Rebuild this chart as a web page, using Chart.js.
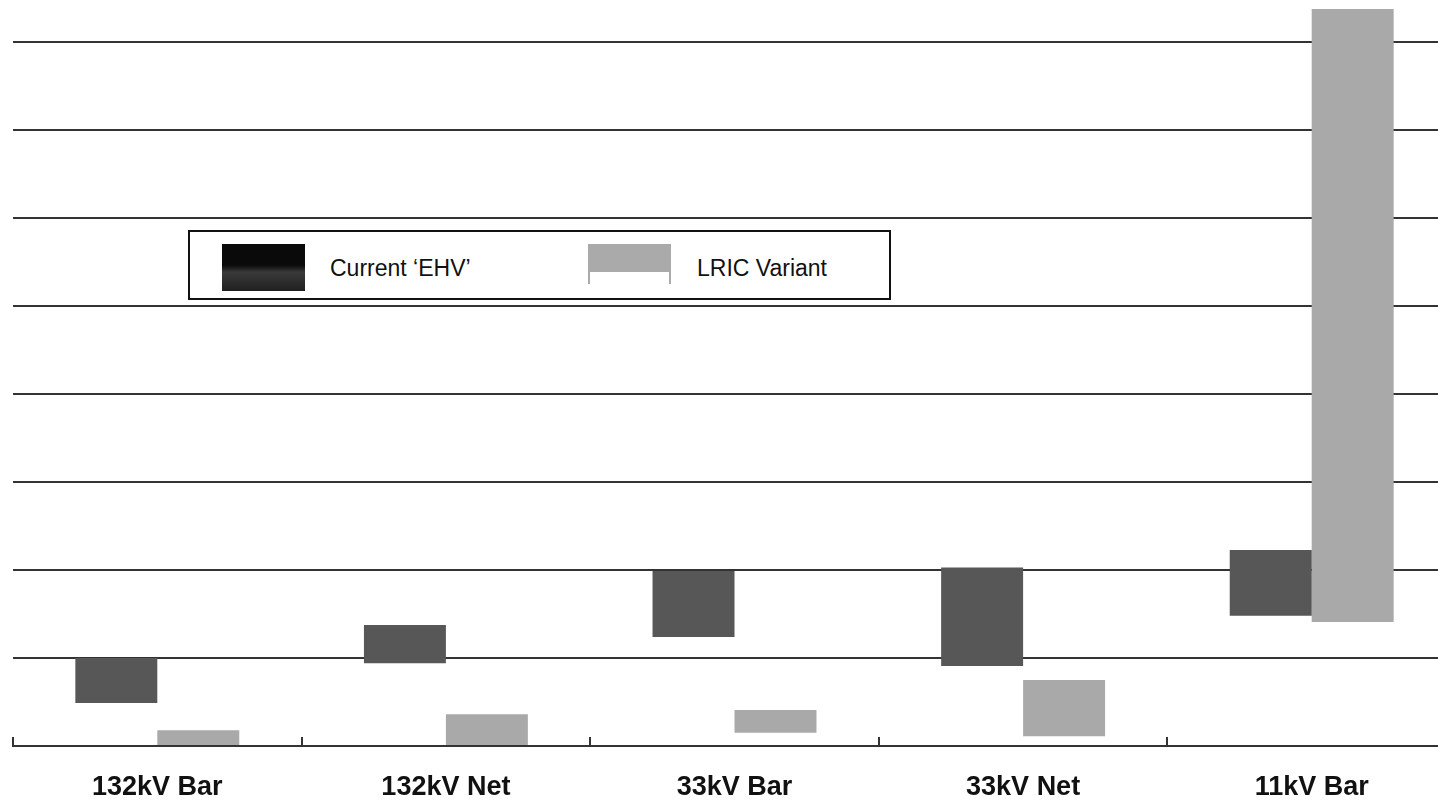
<!DOCTYPE html>
<html>
<head>
<meta charset="utf-8">
<script src="https://cdn.jsdelivr.net/npm/chart.js@4"></script>
<style>
    html, body { margin: 0; padding: 0; background: #fff; overflow: hidden; }
    #wrap { position: relative; width: 1456px; height: 804px; }
    #legend {
        position: absolute; left: 188px; top: 230px; width: 699px; height: 66px;
        border: 2px solid #111; background: #fff;
        font-family: "Liberation Sans", Arial, sans-serif; font-size: 23px; color: #111;
    }
    #legend .sw { position: absolute; top: 12px; height: 47px; width: 83px; }
    #legend .tx { position: absolute; top: 23px; }
</style>
</head>
<body>
<div id="wrap">
    <canvas id="chart"></canvas>
    <div id="legend">
        <div class="sw" style="left:32px; background:linear-gradient(#0a0a0a 45%, #3a3a3a 60%, #202020);"></div>
        <div class="tx" style="left:140px;">Current ‘EHV’</div>
        <div class="sw" style="left:398px; height:28px; background:#aaaaaa;"></div>
        <div class="sw" style="left:398px; top:40px; height:12px; border-left:2px solid #aaa; border-right:2px solid #aaa; box-sizing:border-box;"></div>
        <div class="tx" style="left:507px;">LRIC Variant</div>
    </div>
</div>
<script>
    // categories and floating bar ranges [low, high]
    const categories = ["132kV Bar", "132kV Net", "33kV Bar", "33kV Net", "11kV Bar"];
    const currentEHV = [[0.49, 1.0], [0.94, 1.375], [1.24, 1.99], [0.91, 2.03], [1.48, 2.23]];
    const lricVariant = [[0.0, 0.18], [0.0, 0.36], [0.15, 0.41], [0.11, 0.75], [1.41, 8.38]];
    const yMax = 8.38;

    // little upward tick marks between categories
    const tickMarks = {
        id: "tickMarks",
        afterDatasetsDraw(chart) {
            const x = chart.scales.x, ctx = chart.ctx;
            const bottom = chart.chartArea.bottom;
            ctx.save();
            ctx.strokeStyle = "#333";
            ctx.lineWidth = 2;
            for (let i = 0; i <= categories.length; i++) {
                const px = Math.round(x.getPixelForValue(i - 0.5));
                ctx.beginPath();
                ctx.moveTo(px, bottom);
                ctx.lineTo(px, bottom - 9);
                ctx.stroke();
            }
            ctx.restore();
        }
    };

    const ctx = document.getElementById("chart").getContext("2d");
    const myChart = new Chart(ctx, {
        type: "bar",
        data: {
            labels: categories,
            datasets: [{
                label: "Current 'EHV'",
                data: currentEHV,
                backgroundColor: "#575757",
                categoryPercentage: 0.568,
                barPercentage: 1.0
            }, {
                label: "LRIC Variant",
                data: lricVariant,
                backgroundColor: "#a9a9a9",
                categoryPercentage: 0.568,
                barPercentage: 1.0
            }]
        },
        options: {
            responsive: true,
            maintainAspectRatio: false,
            animation: false,
            layout: { padding: { left: 13, top: 9, right: 0, bottom: 0 } },
            plugins: {
                legend: { display: false },
                tooltip: { enabled: false }
            },
            scales: {
                x: {
                    grid: { display: false },
                    border: { display: true, color: "#333", width: 2 },
                    afterFit: (scale) => { scale.height = 58; },
                    ticks: {
                        color: "#111",
                        padding: 17,
                        maxRotation: 0,
                        font: { family: "'Liberation Sans', Arial, sans-serif", size: 27, weight: "bold" }
                    }
                },
                y: {
                    min: 0,
                    max: yMax,
                    ticks: { display: false, stepSize: 1 },
                    border: { display: false },
                    grid: {
                        drawTicks: false,
                        lineWidth: 2,
                        color: (c) => (c.tick && Number.isInteger(c.tick.value)) ? "#333" : "rgba(0,0,0,0)"
                    }
                }
            }
        },
        plugins: [tickMarks]
    });
</script>
</body>
</html>
